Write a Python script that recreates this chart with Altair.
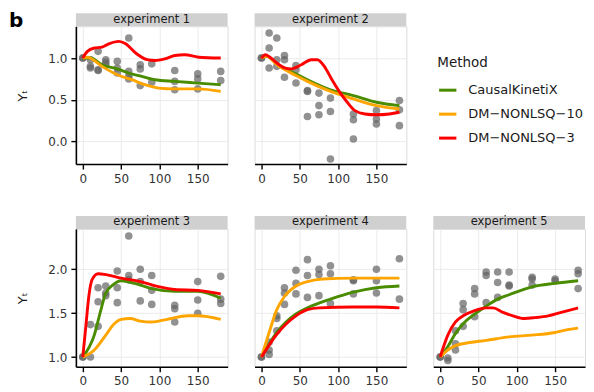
import altair as alt
import pandas as pd

# ---------------- data ----------------
TIMES = [0, 10, 20, 30, 45, 60, 75, 90, 120, 150, 180]
METHODS = ["CausalKinetiX", "DM\u2212NONLSQ\u221210", "DM\u2212NONLSQ\u22123"]
COLORS = ["#4a8c00", "#ffa500", "#ff0000"]
EXPERIMENTS = ["experiment 1", "experiment 2", "experiment 3", "experiment 4", "experiment 5"]

# observations, one list per time point
OBS_E1 = [[1.0, 1.0], [0.98, 0.90, 0.88], [1.08, 0.86, 0.85], [0.98, 0.95, 0.92],
          [0.96, 0.88, 0.82], [1.24, 0.84, 0.78, 0.75], [0.92, 0.87, 0.67],
          [0.93, 0.71], [0.85, 0.72, 0.62], [0.81, 0.75, 0.63], [0.84, 0.73]]
OBS_E2 = [[1.0, 1.0], [1.30, 1.12, 0.88], [1.24, 0.98, 0.90], [1.03, 0.98, 0.77],
          [0.91, 0.86, 0.70], [0.61, 0.60, 0.30], [0.58, 0.43, 0.32],
          [0.52, 0.36, -0.21], [0.33, 0.26, 0.03], [0.37, 0.27, 0.21], [0.49, 0.38, 0.19]]
OBS_E3 = [[1.0, 1.0], [1.0, 1.37], [1.79, 1.63, 1.35], [1.81, 1.73, 1.70],
          [1.98, 1.79, 1.62], [2.38, 1.93, 1.88], [2.0, 1.86, 1.64],
          [1.93, 1.76, 1.60], [1.59, 1.55, 1.40], [1.86, 1.65, 1.50], [1.92, 1.66, 1.61]]
OBS_E4 = [[1.0, 1.0], [1.03, 1.08, 1.17], [1.47, 1.44, 1.30], [1.79, 1.73, 1.60],
          [1.99, 1.84, 1.72], [2.11, 1.93, 1.68], [2.0, 1.94, 1.70],
          [2.04, 1.95, 1.61], [1.88, 1.87, 1.72], [2.0, 1.87, 1.73], [2.12, 1.66]]
OBS_E5 = [[1.0, 1.0], [0.99, 0.96], [1.30, 1.15, 1.08], [1.61, 1.54, 1.35],
          [1.78, 1.72, 1.46], [1.97, 1.93, 1.62], [1.97, 1.85, 1.68],
          [1.97, 1.82, 1.81], [1.91, 1.89, 1.82], [1.89, 1.87], [1.99, 1.95, 1.78]]

# fitted curves (time, value) per method
E1_CKX_T = [0, 10, 25, 45, 60, 77, 94, 120, 150, 180]
E1_CKX_Y = [1.0, 1.0, 0.92, 0.87, 0.82, 0.78, 0.74, 0.72, 0.70, 0.68]
E1_D10_T = [0, 6, 25, 45, 64, 81, 99, 120, 150, 180]
E1_D10_Y = [1.0, 1.01, 0.90, 0.80, 0.74, 0.68, 0.64, 0.63, 0.63, 0.60]
E1_D3_T = [0, 6, 15, 25, 34, 47, 56, 69, 84, 94, 107, 120, 133, 151, 180]
E1_D3_Y = [1.0, 1.08, 1.12, 1.13, 1.17, 1.20, 1.17, 1.06, 0.98, 0.97, 0.99, 1.03, 1.04, 1.01, 1.0]

E2_CKX_T = [0, 7, 20, 45, 60, 90, 120, 150, 180]
E2_CKX_Y = [1.0, 1.02, 0.93, 0.81, 0.74, 0.62, 0.55, 0.47, 0.43]
E2_D10_T = [0, 7, 20, 45, 60, 90, 120, 150, 180]
E2_D10_Y = [1.0, 1.02, 0.92, 0.79, 0.72, 0.60, 0.51, 0.43, 0.39]
E2_D3_T = [0, 5, 11, 20, 31, 39, 52, 65, 73, 82, 92, 103, 112, 122, 135, 150, 167, 180]
E2_D3_Y = [1.0, 1.04, 1.01, 0.94, 0.88, 0.87, 0.92, 0.98, 0.98, 0.90, 0.74, 0.58, 0.47,
           0.37, 0.33, 0.32, 0.33, 0.35]

E3_CKX_T = [0, 15, 24, 30, 39, 50, 75, 90, 120, 150, 180]
E3_CKX_Y = [1.0, 1.25, 1.55, 1.73, 1.82, 1.87, 1.82, 1.78, 1.75, 1.75, 1.67]
E3_D10_T = [0, 15, 30, 41, 50, 62, 75, 90, 110, 137, 150, 180]
E3_D10_Y = [1.0, 1.08, 1.25, 1.38, 1.43, 1.44, 1.41, 1.40, 1.43, 1.47, 1.47, 1.43]
E3_D3_T = [0, 4, 8, 12, 20, 30, 50, 75, 100, 120, 150, 180]
E3_D3_Y = [1.0, 1.35, 1.70, 1.88, 1.95, 1.94, 1.90, 1.86, 1.80, 1.77, 1.76, 1.72]

E4_CKX_T = [0, 20, 45, 60, 90, 120, 150, 180]
E4_CKX_Y = [1.0, 1.28, 1.49, 1.56, 1.66, 1.74, 1.79, 1.81]
E4_D10_T = [0, 10, 20, 30, 45, 60, 80, 120, 180]
E4_D10_Y = [1.0, 1.28, 1.54, 1.69, 1.81, 1.86, 1.89, 1.90, 1.90]
E4_D3_T = [0, 20, 45, 60, 75, 120, 150, 180]
E4_D3_Y = [1.0, 1.26, 1.47, 1.54, 1.56, 1.57, 1.57, 1.56]

E5_CKX_T = [0, 10, 20, 30, 45, 60, 75, 90, 120, 150, 180]
E5_CKX_Y = [1.0, 1.12, 1.27, 1.38, 1.49, 1.58, 1.66, 1.71, 1.80, 1.84, 1.87]
E5_D10_T = [0, 10, 20, 35, 60, 90, 120, 150, 165, 180]
E5_D10_Y = [1.0, 1.08, 1.13, 1.16, 1.19, 1.23, 1.25, 1.28, 1.31, 1.33]
E5_D3_T = [0, 10, 20, 30, 45, 60, 69, 82, 95, 110, 124, 141, 158, 180]
E5_D3_Y = [1.0, 1.25, 1.40, 1.47, 1.53, 1.56, 1.56, 1.51, 1.47, 1.44, 1.45, 1.47, 1.51, 1.56]

ROW1_YDOMAIN = [-0.27, 1.38]
ROW1_YTICKS = [0.0, 0.5, 1.0]
ROW2_YDOMAIN = [0.89, 2.46]
ROW2_YTICKS = [1.0, 1.5, 2.0]
XDOMAIN = [-9, 189]
XTICKS = [0, 50, 100, 150]

# ---------------- chart ----------------
W, H = 152, 138
FONT = "DejaVu Sans"


def obs_frame(obs):
    rows = []
    for t, vals in zip(TIMES, obs):
        for v in vals:
            rows.append({"t": t, "y": v})
    return pd.DataFrame(rows)


def curve_frame(curves):
    rows = []
    for m, (ts, ys) in zip(METHODS, curves):
        for t, y in zip(ts, ys):
            rows.append({"t": t, "y": y, "Method": m})
    return pd.DataFrame(rows)


color_enc = alt.Color(
    "Method:N",
    scale=alt.Scale(domain=METHODS, range=COLORS),
    legend=alt.Legend(
        title="Method", orient="none", legendX=362, legendY=30,
        symbolType="stroke", symbolStrokeWidth=3, symbolSize=300,
        titleFontSize=13.5, titleFontWeight="normal", titleColor="#1a1a1a",
        labelFontSize=13, labelColor="#1a1a1a", rowPadding=6, titlePadding=10,
        labelOffset=10,
    ),
)


def panel(name, obs, curves, ydomain, yticks, show_y, show_b=False):
    x = alt.X("t:Q", scale=alt.Scale(domain=XDOMAIN, nice=False, zero=False),
              axis=alt.Axis(values=XTICKS, title=None))
    if show_y:
        yaxis = alt.Axis(values=yticks, format=".1f", title="Y\u209c", titlePadding=18,
                         titleFontSize=13, titleFontWeight="normal", titleColor="#1a1a1a")
    else:
        yaxis = alt.Axis(values=yticks, labels=False, ticks=False, domain=False, title=None)
    y = alt.Y("y:Q", scale=alt.Scale(domain=ydomain, nice=False, zero=False), axis=yaxis)

    pts = alt.Chart(obs_frame(obs)).mark_circle(size=58, color="#636363", opacity=0.7).encode(x=x, y=y)
    lines = alt.Chart(curve_frame(curves)).mark_line(strokeWidth=2.9, interpolate="monotone").encode(
        x=x, y=y, color=color_enc)
    strip_df = pd.DataFrame({"label": [name]})
    strip = alt.Chart(strip_df).mark_rect(color="#d0d0d0").encode(
        x=alt.value(0), x2=alt.value(W), y=alt.value(-13), y2=alt.value(0))
    strip_txt = alt.Chart(strip_df).mark_text(fontSize=11.5, color="#1a1a1a", baseline="middle", font=FONT).encode(
        x=alt.value(W / 2), y=alt.value(-6.5), text="label:N")
    layers = [pts, lines, strip, strip_txt]
    if show_b:
        b = alt.Chart(pd.DataFrame({"b": ["b"]})).mark_text(
            fontSize=20, fontWeight="bold", align="left", baseline="alphabetic", color="black", font=FONT
        ).encode(x=alt.value(-67), y=alt.value(1), text="b:N")
        layers.append(b)
    return alt.layer(*layers).properties(width=W, height=H)


p1 = panel(EXPERIMENTS[0], OBS_E1, [(E1_CKX_T, E1_CKX_Y), (E1_D10_T, E1_D10_Y), (E1_D3_T, E1_D3_Y)],
           ROW1_YDOMAIN, ROW1_YTICKS, True, True)
p2 = panel(EXPERIMENTS[1], OBS_E2, [(E2_CKX_T, E2_CKX_Y), (E2_D10_T, E2_D10_Y), (E2_D3_T, E2_D3_Y)],
           ROW1_YDOMAIN, ROW1_YTICKS, False)
p3 = panel(EXPERIMENTS[2], OBS_E3, [(E3_CKX_T, E3_CKX_Y), (E3_D10_T, E3_D10_Y), (E3_D3_T, E3_D3_Y)],
           ROW2_YDOMAIN, ROW2_YTICKS, True)
p4 = panel(EXPERIMENTS[3], OBS_E4, [(E4_CKX_T, E4_CKX_Y), (E4_D10_T, E4_D10_Y), (E4_D3_T, E4_D3_Y)],
           ROW2_YDOMAIN, ROW2_YTICKS, False)
p5 = panel(EXPERIMENTS[4], OBS_E5, [(E5_CKX_T, E5_CKX_Y), (E5_D10_T, E5_D10_Y), (E5_D3_T, E5_D3_Y)],
           ROW2_YDOMAIN, ROW2_YTICKS, False)

# empty cell where the legend sits (top-right)
blank = alt.Chart(pd.DataFrame({"a": [0]})).mark_point(opacity=0).encode(
    x=alt.value(0), y=alt.value(0)
).properties(width=W, height=H, view=alt.ViewBackground(strokeOpacity=0))

chart = alt.concat(
    p1, p2, blank, p3, p4, p5, columns=3,
    spacing=alt.RowColnumber(row=65, column=27), bounds="flush",
).properties(
    padding={"left": 0, "top": 2, "right": 0, "bottom": 0}
).configure(font=FONT).configure_view(
    stroke="#dcdcdc", strokeWidth=1
).configure_axis(
    domainColor="black", domainWidth=1.6, tickColor="black", tickWidth=1.4, tickSize=5,
    labelFontSize=12, labelColor="#333333", labelPadding=4,
    gridColor="#ebebeb", gridWidth=1,
)

chart.save("out.html", embed_options={"renderer": "svg", "actions": False})
